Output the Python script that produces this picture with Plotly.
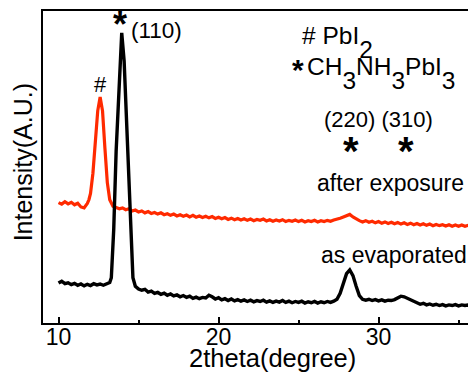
import plotly.graph_objects as go

# ---- data (intensity in arbitrary units) ----
black_x = [10.0, 10.2, 10.4, 10.6, 10.8, 11.0, 11.2, 11.4, 11.6, 11.8, 12.0, 12.2, 12.4, 12.6, 12.8, 13.0,
           13.2, 13.3, 13.45, 13.6, 13.8, 13.95, 14.1, 14.3, 14.5, 14.65, 14.8,
           15.0, 15.2, 15.4, 15.6, 15.8, 16.0, 16.2, 16.4, 16.6, 16.8, 17.0, 17.2, 17.4, 17.6, 17.8,
           18.0, 18.2, 18.4, 18.6, 18.8, 19.0, 19.2, 19.4, 19.6, 19.8, 20.0, 20.2, 20.4, 20.6, 20.8,
           21.0, 21.2, 21.4, 21.6, 21.8, 22.0, 22.2, 22.4, 22.6, 22.8, 23.0, 23.2, 23.4, 23.6, 23.8,
           24.0, 24.2, 24.4, 24.6, 24.8, 25.0, 25.2, 25.4, 25.6, 25.8, 26.0, 26.2, 26.4, 26.6, 26.8,
           27.0, 27.2, 27.4, 27.6, 27.8, 28.0, 28.2, 28.4, 28.6, 28.8, 29.0, 29.2, 29.4, 29.6, 29.8,
           30.0, 30.2, 30.4, 30.6, 30.8, 31.0, 31.2, 31.4, 31.6, 31.8, 32.0, 32.2, 32.4, 32.6, 32.8,
           33.0, 33.2, 33.4, 33.6, 33.8, 34.0, 34.2, 34.4, 34.6, 34.8, 35.0, 35.2, 35.4, 35.6, 35.8]
black_y = [12.8, 13.4, 12.6, 12.9, 12.3, 12.7, 12.1, 12.5, 11.9, 12.4, 12.0, 12.6, 12.2, 12.5, 12.1, 12.7,
           13.0, 14.5, 30.0, 55.0, 80.0, 93.0, 84.0, 58.0, 30.0, 14.5, 11.8,
           10.9, 10.5, 10.8, 9.9, 10.2, 9.5, 9.8, 9.2, 9.6, 8.9, 9.3, 8.7, 9.0, 8.4, 8.8,
           8.2, 8.6, 7.9, 8.3, 7.8, 8.2, 8.0, 8.9, 8.4, 7.7, 8.1, 7.4, 7.8, 7.2, 7.7,
           7.1, 7.5, 7.0, 7.4, 6.9, 7.3, 6.8, 7.2, 6.9, 7.3, 6.7, 7.1, 6.6, 7.0, 6.7,
           7.2, 6.6, 7.0, 6.5, 6.9, 6.6, 7.0, 6.4, 6.8, 6.5, 6.9, 6.4, 6.8, 6.5, 6.9,
           6.6, 7.0, 7.6, 9.5, 13.0, 15.8, 17.0, 15.2, 11.8, 8.8, 7.6, 7.3, 7.6, 7.2, 7.5,
           7.1, 7.4, 7.0, 7.3, 7.2, 7.5, 8.1, 8.6, 8.4, 7.9, 7.3, 6.8, 6.2, 6.0, 6.3,
           5.8, 6.1, 5.7, 6.0, 5.6, 5.9, 5.5, 5.8, 5.6, 5.9, 5.5, 5.8, 5.6, 5.8, 5.6]

red_x = [10.0, 10.2, 10.4, 10.6, 10.8, 11.0, 11.2, 11.4, 11.6, 11.8, 11.9, 12.0, 12.15, 12.3, 12.45, 12.6,
         12.75, 12.9, 13.05, 13.2, 13.4, 13.6, 13.8, 14.0, 14.2, 14.4, 14.6, 14.8,
         15.0, 15.2, 15.4, 15.6, 15.8, 16.0, 16.2, 16.4, 16.6, 16.8, 17.0, 17.2, 17.4, 17.6, 17.8,
         18.0, 18.2, 18.4, 18.6, 18.8, 19.0, 19.2, 19.4, 19.6, 19.8, 20.0, 20.2, 20.4, 20.6, 20.8,
         21.0, 21.2, 21.4, 21.6, 21.8, 22.0, 22.2, 22.4, 22.6, 22.8, 23.0, 23.2, 23.4, 23.6, 23.8,
         24.0, 24.2, 24.4, 24.6, 24.8, 25.0, 25.2, 25.4, 25.6, 25.8, 26.0, 26.2, 26.4, 26.6, 26.8,
         27.0, 27.2, 27.4, 27.6, 27.8, 28.0, 28.2, 28.4, 28.6, 28.8, 29.0, 29.2, 29.4, 29.6, 29.8,
         30.0, 30.2, 30.4, 30.6, 30.8, 31.0, 31.2, 31.4, 31.6, 31.8, 32.0, 32.2, 32.4, 32.6, 32.8,
         33.0, 33.2, 33.4, 33.6, 33.8, 34.0, 34.2, 34.4, 34.6, 34.8, 35.0, 35.2, 35.4, 35.6, 35.8]
red_y = [38.6, 38.1, 38.9, 38.2, 38.7, 37.9, 38.4, 37.2, 36.9, 38.3, 39.5, 41.5, 48.0, 58.0, 68.0, 72.4,
         68.0, 56.0, 45.0, 39.5, 37.4, 37.0, 36.6, 36.9, 36.3, 36.6, 35.9, 36.2,
         35.6, 35.9, 35.3, 35.7, 35.1, 35.4, 34.9, 35.3, 34.7, 35.0, 34.5, 34.9, 34.3, 34.7, 34.2,
         34.6, 34.0, 34.5, 33.9, 34.3, 33.8, 34.2, 33.7, 34.1, 33.5, 33.9, 33.4, 33.8, 33.2, 33.6,
         33.1, 33.5, 33.0, 33.4, 32.9, 33.3, 32.8, 33.2, 32.9, 33.3, 32.7, 33.1, 32.6, 33.0, 32.7,
         33.1, 32.5, 32.9, 32.6, 33.0, 32.5, 32.9, 32.4, 32.8, 32.5, 32.9, 32.4, 32.8, 32.5, 32.9,
         32.6, 33.0, 33.2, 33.6, 34.0, 34.4, 34.8, 34.0, 33.3, 32.8, 32.4, 32.8, 32.3, 32.6, 32.1,
         32.5, 32.0, 32.4, 31.9, 32.3, 31.8, 32.2, 31.7, 32.1, 31.6, 32.0, 31.5, 31.9, 31.4, 31.8,
         31.3, 31.7, 31.2, 31.6, 31.2, 31.5, 31.1, 31.5, 31.0, 31.4, 31.0, 31.4, 31.0, 31.3, 31.0]

tick_vals = [10, 20, 30]
tick_text = ["10", "20", "30"]

FONT = "Arial, Liberation Sans, sans-serif"

fig = go.Figure()
fig.add_trace(go.Scatter(x=red_x, y=red_y, mode="lines",
                         line=dict(color="#ff2a00", width=3.2), name="after exposure"))
fig.add_trace(go.Scatter(x=black_x, y=black_y, mode="lines",
                         line=dict(color="black", width=3.4), name="as evaporated"))

ann = []
def add(text, x, y, size=22, xanchor="left", yanchor="middle", xref="x", yref="y", angle=0):
    ann.append(dict(text=text, x=x, y=y, xref=xref, yref=yref, showarrow=False,
                    xanchor=xanchor, yanchor=yanchor, textangle=angle,
                    font=dict(family=FONT, size=size, color="black")))

SUB = '<span style="baseline-shift:-0.56em">%s</span>'

add("<b>*</b>", 13.85, 95.7, size=36, xanchor="center")
add("(110)", 14.42, 93.9, size=22.5)
add("#", 12.62, 76.5, xanchor="center")
add("# PbI" + SUB % "2", 25.08, 97.0, size=24.5, yanchor="top")
add("<b>*</b>", 24.97, 81.2, size=30, xanchor="center")
add("CH" + SUB % "3" + "NH" + SUB % "3" + "PbI" + SUB % "3", 25.4, 87.3, size=24.5, yanchor="top")
add("(220) (310)", 26.45, 65.1)
add("<b>*</b>", 28.3, 55.2, size=40, xanchor="center")
add("<b>*</b>", 31.7, 55.2, size=40, xanchor="center")
add("after exposure", 26.0, 44.9, size=23)
add("as evaporated", 26.3, 21.8, size=23)
add("2theta(degree)", 0.541, -0.112, size=25.5, xanchor="center", xref="paper", yref="paper")
add("Intensity(A.U.)", -0.047, 0.515, size=25, xanchor="center", xref="paper", yref="paper", angle=-90)

fig.update_layout(
    width=468, height=374,
    margin=dict(l=43, r=0, t=11, b=51),
    paper_bgcolor="white", plot_bgcolor="white",
    showlegend=False,
    annotations=ann,
    xaxis=dict(range=[9.03, 35.59], showgrid=False, zeroline=False,
               showline=True, linecolor="black", linewidth=2, mirror=True,
               ticks="inside", ticklen=6, tickwidth=2, tickcolor="black",
               tickvals=tick_vals, ticktext=tick_text, ticklabelstandoff=-8,
               tickfont=dict(family=FONT, size=23, color="black"),
               minor=dict(ticks="inside", ticklen=3, tickwidth=2, tickcolor="black",
                          tickvals=[15, 25, 35])),
    yaxis=dict(range=[0, 100], showgrid=False, zeroline=False,
               showline=True, linecolor="black", linewidth=2,
               showticklabels=False, ticks=""),
)

fig.write_html("out.html", config={"displayModeBar": False},
               post_script="document.body.style.margin='0px';document.body.style.padding='0px';")
